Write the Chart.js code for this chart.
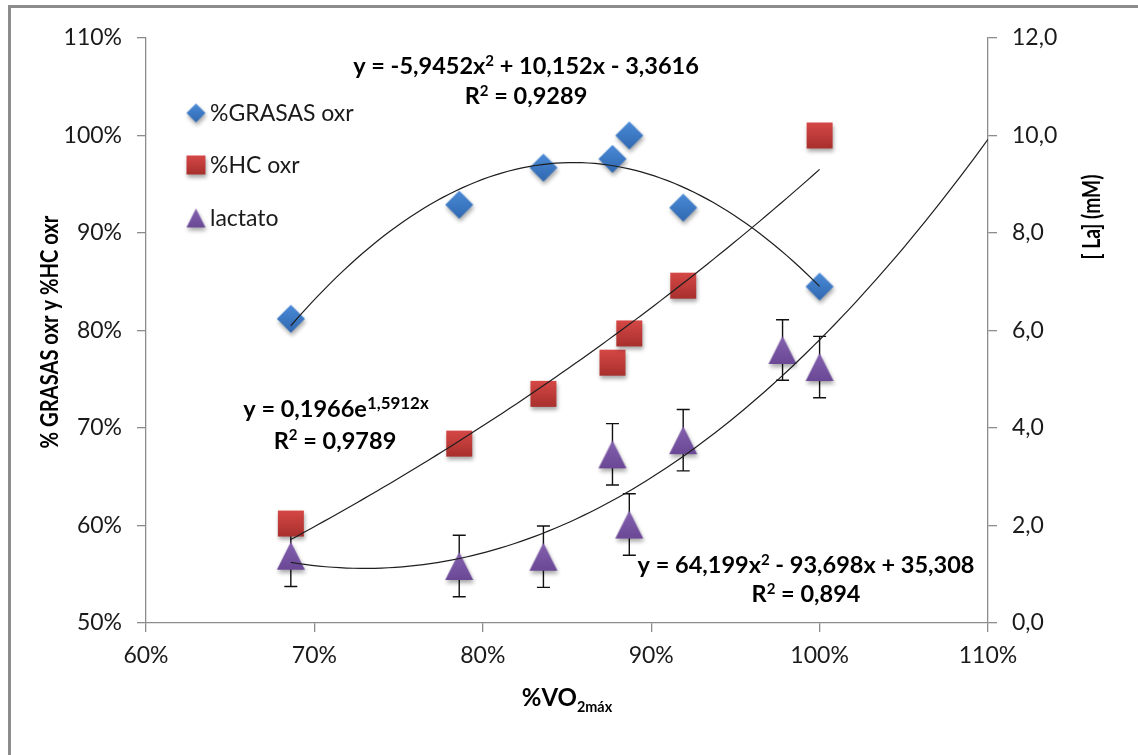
<!DOCTYPE html>
<html>
<head>
<meta charset="utf-8">
<script src="https://cdn.jsdelivr.net/npm/chart.js@4.4.1/dist/chart.umd.min.js"></script>
<style>
  html, body { margin: 0; padding: 0; background: #fff; overflow: hidden; }
  #wrap { position: relative; width: 1138px; height: 755px; overflow: hidden; }
  #frame { position: absolute; left: 8px; top: 5px; width: 1200px; height: 800px;
           border: 3px solid #8c8c8c; box-sizing: border-box; }
  #c { position: absolute; left: 0; top: 0; }
</style>
</head>
<body>
<div id="wrap">
  <div id="frame"></div>
  <canvas id="c" width="1138" height="755"></canvas>
</div>
<script>
// %VO2max (fraction) of each measurement
const vo2Oxr     = [0.686, 0.786, 0.836, 0.877, 0.887, 0.919, 1.000];
const grasasOxr  = [0.812, 0.929, 0.967, 0.976, 1.000, 0.926, 0.845];
const hcOxr      = [0.602, 0.684, 0.735, 0.767, 0.797, 0.846, 1.000];

const vo2Lactato = [0.686, 0.786, 0.836, 0.877, 0.887, 0.919, 0.978, 1.000];
const lactato    = [1.38, 1.17, 1.36, 3.46, 2.02, 3.75, 5.60, 5.25];   // mM
const lactatoErr = [0.63, 0.63, 0.63, 0.63, 0.63, 0.63, 0.62, 0.63];

// fitted trend lines (coefficients as printed on the chart)
const grasasPoly  = [-5.9452, 10.152, -3.3616];   // a x^2 + b x + c
const hcExp       = [0.1966, 1.5912];             // a e^(b x)
const lactatoPoly = [64.199, -93.698, 35.308];    // a x^2 + b x + c
const grasasRange  = [0.686, 1.000];
const hcRange      = [0.686, 1.000];
const lactatoRange = [0.686, 1.100];

// axis ranges
const xAxis  = [0.6, 1.1, 0.1];
const yLeft  = [0.5, 1.1, 0.1];
const yRight = [0, 12, 2];

const FONT = 'Lato, "Open Sans", sans-serif';
const AXIS_GRAY = '#8c8c8c';
const TEXT = '#1a1a1a';

function polyAt(c, x) { return c[0] * x * x + c[1] * x + c[2]; }
function expAt(c, x) { return c[0] * Math.exp(c[1] * x); }
function curve(fn, coef, range, n) {
  const pts = [];
  for (let i = 0; i <= n; i++) {
    const x = range[0] + (range[1] - range[0]) * i / n;
    pts.push({ x: x, y: fn(coef, x) });
  }
  return pts;
}
function pairs(xs, ys) { return xs.map((x, i) => ({ x: x, y: ys[i] })); }

// marker sprites with a soft drop shadow
function marker(kind, w, h, top, bottom) {
  const pad = 9;
  const W = Math.ceil(w + pad * 2), H = Math.ceil(h + pad * 2);
  const c = document.createElement('canvas');
  c.width = W; c.height = H;
  const g = c.getContext('2d');
  const cx = W / 2, cy = H / 2, hw = w / 2, hh = h / 2;
  g.beginPath();
  if (kind === 'diamond') {
    g.moveTo(cx, cy - hh); g.lineTo(cx + hw, cy); g.lineTo(cx, cy + hh); g.lineTo(cx - hw, cy);
  } else if (kind === 'square') {
    g.rect(cx - hw, cy - hh, w, h);
  } else {
    g.moveTo(cx, cy - hh); g.lineTo(cx + hw, cy + hh); g.lineTo(cx - hw, cy + hh);
  }
  g.closePath();
  const grad = g.createLinearGradient(0, cy - hh, 0, cy + hh);
  grad.addColorStop(0, top);
  grad.addColorStop(1, bottom);
  g.shadowColor = 'rgba(0,0,0,0.35)';
  g.shadowBlur = 4; g.shadowOffsetX = 1; g.shadowOffsetY = 3;
  g.fillStyle = grad;
  g.fill();
  return c;
}
const BLUE = ['#4b8bd8', '#2f68b0'];
const RED = ['#d54846', '#a8302d'];
const PURPLE = ['#8462b0', '#6a4896'];
const mDiamond  = marker('diamond', 28, 28, BLUE[0], BLUE[1]);
const mSquare   = marker('square', 26, 26, RED[0], RED[1]);
const mTriangle = marker('triangle', 28, 28, PURPLE[0], PURPLE[1]);
const lDiamond  = marker('diamond', 19, 19, BLUE[0], BLUE[1]);
const lSquare   = marker('square', 19, 19, RED[0], RED[1]);
const lTriangle = marker('triangle', 19, 19, PURPLE[0], PURPLE[1]);

// text with superscript / subscript runs
function richText(ctx, runs, cx, baseline, size, align) {
  let total = 0;
  runs.forEach(r => {
    ctx.font = 'bold ' + (r.s ? size * r.s : size) + 'px ' + FONT;
    r.w = ctx.measureText(r.t).width;
    total += r.w;
  });
  let x = align === 'left' ? cx : cx - total / 2;
  ctx.textAlign = 'left';
  ctx.textBaseline = 'alphabetic';
  runs.forEach(r => {
    ctx.font = 'bold ' + (r.s ? size * r.s : size) + 'px ' + FONT;
    ctx.fillText(r.t, x, baseline + (r.dy || 0));
    x += r.w;
  });
}

// rotated, slightly condensed axis title
function sideTitle(ctx, text, x, y, size, squeeze) {
  ctx.save();
  ctx.translate(x, y);
  ctx.rotate(-Math.PI / 2);
  ctx.scale(squeeze, 1);
  richText(ctx, [{ t: text }], 0, 0, size);
  ctx.restore();
}

const errorBars = {
  id: 'errorBars',
  beforeDatasetsDraw(chart) {
    const ctx = chart.ctx, xs = chart.scales.x, ys = chart.scales.y2;
    ctx.save();
    ctx.strokeStyle = '#111';
    ctx.lineWidth = 1.4;
    vo2Lactato.forEach((v, i) => {
      const x = xs.getPixelForValue(v);
      const y1 = ys.getPixelForValue(lactato[i] + lactatoErr[i]);
      const y2 = ys.getPixelForValue(lactato[i] - lactatoErr[i]);
      ctx.beginPath();
      ctx.moveTo(x, y1); ctx.lineTo(x, y2);
      ctx.moveTo(x - 6.5, y1); ctx.lineTo(x + 6.5, y1);
      ctx.moveTo(x - 6.5, y2); ctx.lineTo(x + 6.5, y2);
      ctx.stroke();
    });
    ctx.restore();
  }
};

const labels = {
  id: 'labels',
  afterDraw(chart) {
    const ctx = chart.ctx;
    ctx.save();
    ctx.fillStyle = '#000';
    const EQ = 23.5, sup = 0.64, up = -8.5;
    // trend line equations
    richText(ctx, [{ t: 'y = -5,9452x' }, { t: '2', s: sup, dy: up }, { t: ' + 10,152x - 3,3616' }], 526, 74, EQ);
    richText(ctx, [{ t: 'R' }, { t: '2', s: sup, dy: up }, { t: ' = 0,9289' }], 526, 104, EQ);
    richText(ctx, [{ t: 'y = 0,1966e' }, { t: '1,5912x', s: 0.72, dy: -8 }], 336, 417, EQ);
    richText(ctx, [{ t: 'R' }, { t: '2', s: sup, dy: up }, { t: ' = 0,9789' }], 335, 448.5, EQ);
    richText(ctx, [{ t: 'y = 64,199x' }, { t: '2', s: sup, dy: up }, { t: ' - 93,698x + 35,308' }], 806, 573, EQ);
    richText(ctx, [{ t: 'R' }, { t: '2', s: sup, dy: up }, { t: ' = 0,894' }], 806, 602, EQ);

    // legend
    const legend = [[lDiamond, '%GRASAS oxr', 113], [lSquare, '%HC oxr', 165], [lTriangle, 'lactato', 218]];
    ctx.font = '23px ' + FONT;
    ctx.textAlign = 'left';
    ctx.textBaseline = 'middle';
    legend.forEach(([img, txt, y]) => {
      ctx.drawImage(img, 196 - img.width / 2, y - img.height / 2);
      ctx.fillStyle = TEXT;
      ctx.fillText(txt, 210, y + 1);
    });

    // axis titles
    ctx.fillStyle = '#000';
    richText(ctx, [{ t: '%VO' }, { t: '2máx', s: 0.6, dy: 5.7 }], 567, 706, 24);
    sideTitle(ctx, '% GRASAS oxr y %HC oxr', 58, 332, 24, 0.84);
    sideTitle(ctx, '[ La] (mM)', 1100, 217, 24, 0.8);

    ctx.restore();
  }
};

const tickFont = { family: FONT, size: 23 };
const gridOpts = { drawOnChartArea: false, drawTicks: true, tickLength: 9, color: AXIS_GRAY, lineWidth: 1.3 };
const borderOpts = { color: AXIS_GRAY, width: 1.3 };

new Chart(document.getElementById('c'), {
  type: 'scatter',
  data: {
    datasets: [
      { label: 'tendencia %GRASAS', data: curve(polyAt, grasasPoly, grasasRange, 80), yAxisID: 'y',
        showLine: true, pointRadius: 0, borderColor: '#1e1e1e', borderWidth: 1.2, tension: 0, order: 0 },
      { label: 'tendencia %HC', data: curve(expAt, hcExp, hcRange, 80), yAxisID: 'y',
        showLine: true, pointRadius: 0, borderColor: '#1e1e1e', borderWidth: 1.2, tension: 0, order: 0 },
      { label: 'tendencia lactato', data: curve(polyAt, lactatoPoly, lactatoRange, 100), yAxisID: 'y2',
        showLine: true, pointRadius: 0, borderColor: '#1e1e1e', borderWidth: 1.2, tension: 0, order: 0 },
      { label: '%GRASAS oxr', data: pairs(vo2Oxr, grasasOxr), yAxisID: 'y',
        pointStyle: mDiamond, pointRadius: 14, order: 1 },
      { label: '%HC oxr', data: pairs(vo2Oxr, hcOxr), yAxisID: 'y',
        pointStyle: mSquare, pointRadius: 14, order: 1 },
      { label: 'lactato', data: pairs(vo2Lactato, lactato), yAxisID: 'y2',
        pointStyle: mTriangle, pointRadius: 14, order: 1 }
    ]
  },
  options: {
    responsive: false,
    animation: false,
    devicePixelRatio: 1,
    layout: { padding: { top: 38, left: 0, right: 0, bottom: 0 } },
    plugins: { legend: { display: false }, tooltip: { enabled: false } },
    scales: {
      x: {
        type: 'linear', position: 'bottom', min: xAxis[0], max: xAxis[1],
        ticks: { stepSize: xAxis[2], font: tickFont, color: TEXT, padding: 10,
                 callback: v => Math.round(v * 100) + '%' },
        grid: gridOpts, border: borderOpts,
        afterFit: s => { s.height = 132; }
      },
      y: {
        type: 'linear', position: 'left', min: yLeft[0], max: yLeft[1],
        ticks: { stepSize: yLeft[2], font: tickFont, color: TEXT, padding: 15,
                 callback: v => Math.round(v * 100) + '%' },
        grid: gridOpts, border: borderOpts,
        afterFit: s => { s.width = 146; }
      },
      y2: {
        type: 'linear', position: 'right', min: yRight[0], max: yRight[1],
        ticks: { stepSize: yRight[2], font: tickFont, color: TEXT, padding: 15,
                 callback: v => v.toFixed(1).replace('.', ',') },
        grid: gridOpts, border: borderOpts,
        afterFit: s => { s.width = 150; }
      }
    }
  },
  plugins: [errorBars, labels]
});
</script>
</body>
</html>
